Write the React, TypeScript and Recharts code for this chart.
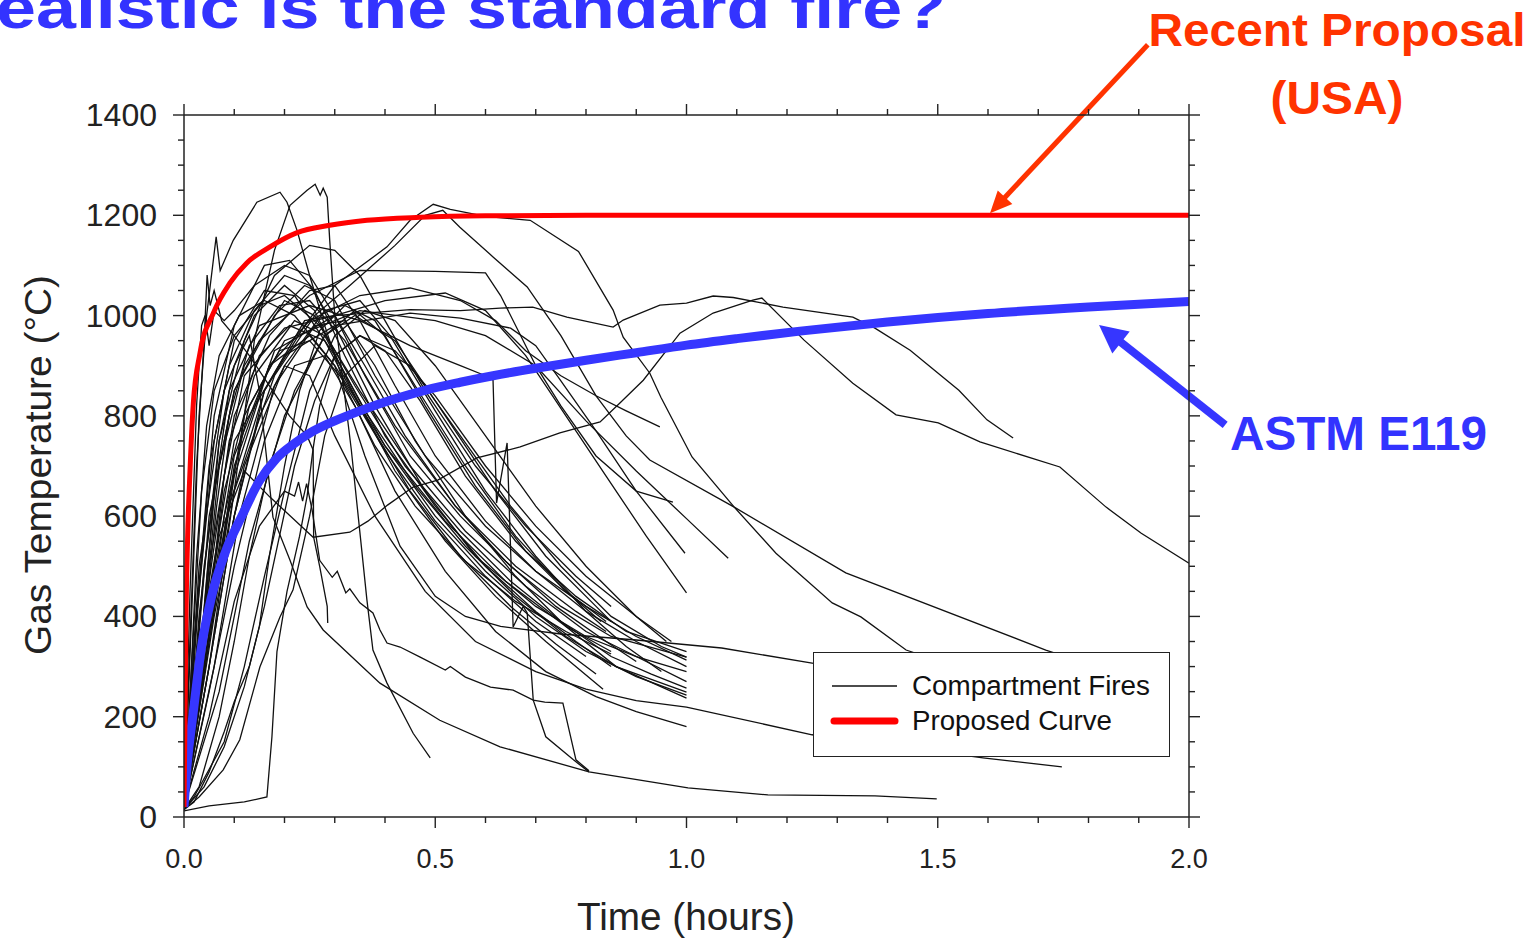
import React from "react";
import {
  LineChart,
  Line,
  XAxis,
  YAxis,
  Legend,
  ReferenceLine,
} from "recharts";

type Pt = [number, number];

// axis ticks
const xTicks = [0, 0.1, 0.2, 0.3, 0.4, 0.5, 0.6, 0.7, 0.8, 0.9, 1.0, 1.1, 1.2, 1.3, 1.4, 1.5, 1.6, 1.7, 1.8, 1.9, 2.0];
const yTicks = [0, 50, 100, 150, 200, 250, 300, 350, 400, 450, 500, 550, 600, 650, 700, 750, 800, 850, 900, 950, 1000, 1050, 1100, 1150, 1200, 1250, 1300, 1350, 1400];

// ASTM E119 standard fire (hours, degC)
const astmE119: Pt[] = [[0, 20], [0.005, 90], [0.0186, 210], [0.035, 340], [0.055, 440], [0.083, 530], [0.115, 600], [0.15, 670], [0.184, 715], [0.22, 745], [0.251, 766], [0.3, 790], [0.35, 810], [0.42, 834], [0.483, 852], [0.55, 867], [0.615, 880], [0.7, 895], [0.8, 911], [0.9, 926], [1.0, 941], [1.1, 954], [1.226, 969], [1.4, 987], [1.6, 1004], [1.8, 1017], [2.0, 1028]];

// proposed curve
const proposedCurve: Pt[] = [[0, 20], [0.002, 200], [0.004, 400], [0.007, 550], [0.012, 692], [0.0186, 826], [0.0318, 925], [0.0584, 1005], [0.0915, 1065], [0.125, 1105], [0.171, 1137], [0.224, 1165], [0.29, 1180], [0.364, 1190], [0.47, 1196], [0.6, 1199], [0.8, 1200], [2.0, 1200]];

// compartment fires
const fireA: Pt[] = [[0, 20], [0.03, 300], [0.07, 560], [0.12, 690], [0.171, 638], [0.257, 558], [0.33, 568], [0.366, 590], [0.405, 622], [0.456, 658], [0.505, 672], [0.583, 716], [0.669, 738], [0.748, 766], [0.828, 788], [0.868, 826], [0.914, 871], [0.987, 965], [1.053, 1005], [1.132, 1031], [1.15, 1035], [1.234, 951], [1.331, 865], [1.417, 802], [1.501, 786], [1.584, 748], [1.743, 698], [1.835, 618], [1.905, 566], [2.0, 506]];
const fireB: Pt[] = [[0, 20], [0.04, 320], [0.08, 680], [0.12, 880], [0.2, 975], [0.3, 1000], [0.45, 1012], [0.55, 1010], [0.629, 1015], [0.694, 1017], [0.762, 997], [0.854, 977], [0.874, 991], [0.947, 1021], [1.0, 1025], [1.053, 1039], [1.093, 1036], [1.192, 1017], [1.331, 997], [1.375, 975], [1.445, 931], [1.542, 851], [1.598, 792], [1.65, 756]];
const fireC: Pt[] = [[0, 20], [0.04, 300], [0.09, 620], [0.16, 850], [0.24, 980], [0.3, 1060], [0.404, 1137], [0.45, 1190], [0.496, 1222], [0.53, 1212], [0.6, 1198], [0.689, 1190], [0.785, 1128], [0.854, 1011], [0.874, 957], [0.927, 885], [0.949, 837], [1.011, 718], [1.095, 618], [1.178, 526], [1.29, 427], [1.347, 399], [1.437, 333], [1.5, 312]];
const fireD: Pt[] = [[0, 20], [0.05, 350], [0.1, 650], [0.18, 880], [0.26, 1000], [0.33, 1060], [0.42, 1140], [0.48, 1200], [0.515, 1210], [0.549, 1176], [0.615, 1117], [0.683, 1057], [0.75, 960], [0.82, 840], [0.88, 760], [0.927, 712], [1.095, 618], [1.317, 487], [1.715, 333], [1.8, 305]];
const fireE: Pt[] = [[0, 20], [0.05, 420], [0.1, 720], [0.17, 900], [0.25, 990], [0.35, 1040], [0.45, 1055], [0.55, 1030], [0.62, 990], [0.68, 930], [0.75, 880], [0.82, 840], [0.88, 810], [0.947, 778]];
const fireF: Pt[] = [[0, 20], [0.03, 300], [0.06, 650], [0.1, 850], [0.15, 950], [0.25, 1040], [0.35, 1090], [0.5, 1088], [0.6, 1085], [0.63, 1040], [0.7, 900], [0.75, 820], [0.82, 720], [0.9, 650], [0.973, 628]];
const fireG: Pt[] = [[0, 20], [0.05, 450], [0.1, 750], [0.2, 920], [0.3, 980], [0.45, 1005], [0.55, 995], [0.65, 975], [0.7, 940], [0.75, 870], [0.82, 770], [0.9, 650], [0.997, 526]];
const fireH: Pt[] = [[0, 20], [0.04, 300], [0.1, 700], [0.18, 930], [0.3, 1000], [0.4, 1030], [0.52, 1045], [0.6, 1010], [0.68, 920], [0.76, 800], [0.84, 680], [0.92, 560], [1.0, 447]];
const fireI: Pt[] = [[0, 20], [0.05, 400], [0.12, 800], [0.2, 950], [0.35, 1010], [0.5, 990], [0.6, 960], [0.7, 900], [0.8, 790], [0.9, 690], [1.0, 595], [1.083, 516]];
const fireJ: Pt[] = [[0, 20], [0.05, 350], [0.1, 680], [0.17, 900], [0.25, 960], [0.3, 900], [0.36, 720], [0.43, 540], [0.5, 440], [0.56, 400], [0.63, 380], [0.75, 365], [0.9, 353], [1.07, 337], [1.25, 307], [1.4, 285]];
const fireK: Pt[] = [[0, 20], [0.03, 300], [0.07, 750], [0.1, 900], [0.13, 960], [0.15, 850], [0.177, 598], [0.211, 512], [0.245, 419], [0.277, 373], [0.39, 267], [0.509, 193], [0.629, 140], [0.806, 90], [1.003, 58], [1.162, 44], [1.375, 42], [1.498, 36]];
const fireL: Pt[] = [[0, 20], [0.05, 300], [0.1, 650], [0.14, 950], [0.18, 1130], [0.211, 1220], [0.245, 1250], [0.261, 1262], [0.271, 1240], [0.277, 1254], [0.285, 1236], [0.29, 1150], [0.3, 1000], [0.315, 880], [0.333, 732], [0.364, 433], [0.376, 333], [0.404, 267], [0.456, 167], [0.49, 118]];
const fireM: Pt[] = [[0, 20], [0.05, 200], [0.1, 430], [0.15, 580], [0.2, 650], [0.22, 640], [0.228, 668], [0.236, 630], [0.244, 665], [0.255, 612], [0.27, 512], [0.295, 478], [0.305, 490], [0.322, 447], [0.33, 455], [0.35, 427], [0.376, 407], [0.39, 373], [0.404, 347], [0.43, 339], [0.47, 319], [0.52, 293], [0.53, 300], [0.56, 279], [0.61, 259], [0.655, 253], [0.695, 233], [0.718, 229], [0.754, 227], [0.78, 114], [0.806, 92]];
const fireN: Pt[] = [[0, 12], [0.05, 22], [0.12, 30], [0.165, 40], [0.175, 160], [0.185, 330], [0.205, 450], [0.23, 560], [0.245, 640], [0.257, 735], [0.27, 820], [0.3, 920], [0.35, 960], [0.4, 930], [0.47, 830], [0.56, 680], [0.66, 550], [0.76, 450], [0.84, 390]];
const fireO: Pt[] = [[0, 20], [0.015, 400], [0.03, 800], [0.045, 1000], [0.064, 1157], [0.072, 1090], [0.098, 1150], [0.145, 1226], [0.191, 1246], [0.205, 1226], [0.225, 1170], [0.25, 1080], [0.28, 980], [0.32, 860], [0.38, 740], [0.46, 620], [0.56, 510], [0.66, 430], [0.76, 370], [0.85, 325]];
const fireP: Pt[] = [[0, 20], [0.01, 300], [0.025, 700], [0.04, 950], [0.046, 1081], [0.052, 1020], [0.06, 1050], [0.075, 990], [0.1, 960], [0.13, 920], [0.17, 860], [0.21, 800], [0.245, 760], [0.257, 732], [0.258, 558], [0.27, 500], [0.285, 420], [0.286, 387]];
const fireQ: Pt[] = [[0, 20], [0.012, 450], [0.025, 820], [0.035, 980], [0.042, 1000], [0.05, 940], [0.06, 1010], [0.08, 990], [0.1, 1010], [0.14, 1060], [0.2, 1100], [0.25, 1080], [0.3, 1000], [0.36, 880], [0.45, 720], [0.55, 600], [0.65, 500], [0.75, 420], [0.85, 360], [1.0, 319]];
const fireR: Pt[] = [[0, 20], [0.04, 500], [0.09, 850], [0.15, 980], [0.25, 1020], [0.35, 990], [0.45, 940], [0.55, 900], [0.6, 880], [0.615, 871], [0.622, 626], [0.643, 746], [0.655, 379], [0.675, 420], [0.683, 407], [0.695, 233], [0.72, 160], [0.775, 114], [0.806, 90]];
const fireT: Pt[] = [[0, 20], [0.05, 300], [0.1, 600], [0.15, 800], [0.2, 900], [0.25, 880], [0.3, 760], [0.38, 600], [0.48, 450], [0.58, 350], [0.7, 290], [0.8, 255], [0.9, 232], [1.0, 219], [1.25, 164], [1.59, 118], [1.747, 100]];
const fireU: Pt[] = [[0, 20], [0.03, 400], [0.07, 750], [0.12, 950], [0.18, 1080], [0.25, 1140], [0.3, 1130], [0.35, 1080], [0.4, 990], [0.48, 850], [0.58, 700], [0.68, 580], [0.78, 480], [0.85, 420]];
const fireB1: Pt[] = [[0, 20], [0.02, 250], [0.05, 600], [0.1, 850], [0.18, 1000], [0.24, 1060], [0.3, 1030], [0.38, 880], [0.48, 720], [0.6, 580], [0.7, 490], [0.8, 420], [0.9, 360], [1.0, 313]];
const fireB2: Pt[] = [[0, 20], [0.03, 300], [0.07, 700], [0.12, 900], [0.2, 1030], [0.26, 1000], [0.34, 860], [0.44, 700], [0.55, 570], [0.65, 470], [0.75, 390], [0.85, 320], [0.93, 285], [1.0, 257]];
const fireB3: Pt[] = [[0, 20], [0.04, 350], [0.08, 650], [0.14, 880], [0.22, 990], [0.28, 960], [0.36, 810], [0.46, 660], [0.56, 540], [0.66, 440], [0.76, 360], [0.86, 300], [1.0, 249]];
const fireB4: Pt[] = [[0, 20], [0.025, 400], [0.06, 750], [0.1, 950], [0.16, 1050], [0.22, 1040], [0.3, 920], [0.4, 740], [0.5, 600], [0.6, 490], [0.7, 400], [0.8, 330], [0.9, 280], [1.0, 243]];
const fireB5: Pt[] = [[0, 20], [0.05, 300], [0.1, 600], [0.16, 850], [0.24, 990], [0.3, 1000], [0.36, 900], [0.44, 760], [0.54, 620], [0.64, 510], [0.74, 420], [0.84, 350], [0.9, 310]];
const fireB6: Pt[] = [[0, 20], [0.03, 500], [0.08, 850], [0.14, 1000], [0.2, 1060], [0.26, 1010], [0.33, 860], [0.42, 690], [0.52, 550], [0.62, 440], [0.72, 350], [0.834, 255]];
const fireB7: Pt[] = [[0, 20], [0.04, 400], [0.09, 750], [0.15, 920], [0.21, 980], [0.28, 950], [0.36, 800], [0.45, 650], [0.55, 520], [0.65, 420], [0.74, 345], [0.82, 285]];
const fireB8: Pt[] = [[0, 20], [0.06, 300], [0.11, 600], [0.18, 860], [0.26, 980], [0.32, 990], [0.38, 900], [0.46, 750], [0.56, 600], [0.66, 480], [0.76, 380], [0.86, 300], [1.0, 237]];
const fireB9: Pt[] = [[0, 20], [0.02, 350], [0.05, 700], [0.09, 900], [0.14, 1010], [0.2, 1080], [0.25, 1060], [0.3, 980], [0.38, 820], [0.48, 650], [0.58, 520], [0.7, 420], [0.8, 360], [0.9, 320], [1.0, 290]];
const fireB10: Pt[] = [[0, 20], [0.07, 250], [0.13, 550], [0.2, 800], [0.28, 960], [0.34, 1010], [0.4, 960], [0.48, 820], [0.58, 660], [0.68, 530], [0.78, 440], [0.88, 370], [1.0, 330]];
const fireB11: Pt[] = [[0, 20], [0.03, 450], [0.06, 800], [0.1, 980], [0.16, 1100], [0.21, 1110], [0.26, 1050], [0.32, 920], [0.4, 760], [0.5, 620], [0.6, 500], [0.7, 410], [0.78, 350], [0.85, 300]];
const fireB12: Pt[] = [[0, 20], [0.05, 500], [0.1, 800], [0.17, 960], [0.25, 1050], [0.3, 1060], [0.35, 990], [0.42, 860], [0.5, 720], [0.6, 590], [0.7, 490], [0.8, 410], [0.9, 350], [1.0, 300]];
const fireB13: Pt[] = [[0, 20], [0.04, 300], [0.08, 600], [0.13, 820], [0.19, 930], [0.25, 950], [0.31, 880], [0.4, 730], [0.5, 590], [0.6, 480], [0.7, 390], [0.8, 320]];
const fireB14: Pt[] = [[0, 20], [0.06, 400], [0.12, 700], [0.2, 900], [0.28, 1010], [0.35, 1030], [0.41, 960], [0.5, 810], [0.6, 650], [0.7, 520], [0.8, 410], [0.88, 340], [0.95, 290]];
const fireB15: Pt[] = [[0, 20], [0.05, 250], [0.1, 500], [0.16, 750], [0.22, 900], [0.28, 920], [0.34, 820], [0.42, 650], [0.52, 490], [0.62, 370], [0.72, 290], [0.82, 240], [0.9, 210], [1.0, 180]];
const fireB16: Pt[] = [[0, 20], [0.01, 200], [0.025, 520], [0.045, 780], [0.07, 920], [0.11, 1000], [0.16, 1030], [0.22, 1000], [0.3, 900], [0.4, 740], [0.52, 590], [0.64, 470], [0.76, 380], [0.85, 330]];
const fireB17: Pt[] = [[0, 20], [0.015, 300], [0.035, 650], [0.06, 850], [0.1, 960], [0.15, 1020], [0.2, 1040], [0.27, 980], [0.35, 850], [0.45, 700], [0.56, 570], [0.68, 460], [0.8, 370], [0.9, 320], [1.0, 270]];
const fireB18: Pt[] = [[0, 20], [0.02, 150], [0.04, 380], [0.065, 620], [0.09, 800], [0.13, 940], [0.19, 1020], [0.25, 1030], [0.32, 950], [0.42, 780], [0.54, 620], [0.66, 500], [0.78, 410], [0.84, 370]];
const fireS1: Pt[] = [[0, 15], [0.02, 40], [0.08, 150], [0.12, 300], [0.16, 480], [0.2, 650], [0.25, 850], [0.3, 960], [0.36, 1010], [0.42, 990], [0.5, 900], [0.6, 760], [0.7, 620], [0.8, 500], [0.9, 400], [0.96, 350]];
const fireS2: Pt[] = [[0, 15], [0.03, 60], [0.07, 200], [0.1, 350], [0.13, 520], [0.17, 700], [0.22, 850], [0.28, 960], [0.34, 1000], [0.42, 950], [0.52, 800], [0.62, 650], [0.72, 520], [0.82, 420], [0.85, 390]];
const fireS3: Pt[] = [[0, 15], [0.03, 40], [0.078, 94], [0.111, 154], [0.151, 299], [0.191, 399], [0.217, 453], [0.25, 600], [0.28, 760], [0.32, 880], [0.38, 940], [0.45, 900], [0.55, 760], [0.65, 620], [0.75, 500], [0.85, 400], [0.95, 340], [1.0, 319]];
const fireS4: Pt[] = [[0, 15], [0.02, 30], [0.05, 90], [0.08, 170], [0.1, 230], [0.13, 300], [0.16, 420], [0.19, 560], [0.22, 700], [0.26, 830], [0.3, 920], [0.35, 960], [0.42, 930], [0.5, 840], [0.6, 700], [0.7, 580], [0.8, 480], [0.9, 400], [0.97, 350]];
const fireS5: Pt[] = [[0, 15], [0.04, 60], [0.08, 140], [0.12, 260], [0.15, 380], [0.17, 520], [0.2, 700], [0.23, 850], [0.27, 970], [0.32, 1020], [0.38, 990], [0.46, 860], [0.56, 700], [0.66, 560], [0.76, 450], [0.83, 390]];

const compartmentFires: Pt[][] = [
  fireA, fireB, fireC, fireD, fireE, fireF, fireG, fireH, fireI, fireJ, fireK, fireL, fireM,
  fireN, fireO, fireP, fireQ, fireR, fireT, fireU,
  fireB1, fireB2, fireB3, fireB4, fireB5, fireB6, fireB7, fireB8, fireB9, fireB10, fireB11,
  fireB12, fireB13, fireB14, fireB15, fireB16, fireB17, fireB18,
  fireS1, fireS2, fireS3, fireS4, fireS5,
];

// annotation arrows (tail -> tip, in hours / degC)
const redArrow = [{ x: 1.918, y: 1540 }, { x: 1.604, y: 1204 }];
const blueArrow = [{ x: 2.072, y: 782 }, { x: 1.821, y: 981 }];

const toRows = (pts: Pt[]) => pts.map(([t, temp]) => ({ t, temp }));

const FONT = "'Liberation Sans', Arial, Helvetica, sans-serif";
const AXIS = "#222";
const RED = "#ff0000";
const BLUE = "#3636ff";

const isMajorX = (v: number) => Math.round(v * 10) % 5 === 0;

const BottomTick = (props: any) => {
  const { x, y, payload } = props;
  const major = isMajorX(payload.value);
  return (
    <g>
      <line x1={x} x2={x} y1={y} y2={y + (major ? 11 : 6)} stroke={AXIS} strokeWidth={1.4} />
      {major && (
        <text x={x} y={y + 42} textAnchor="middle" dominantBaseline="central" fontSize={27} fill={AXIS} fontFamily={FONT}>
          {payload.value.toFixed(1)}
        </text>
      )}
    </g>
  );
};

const TopTick = (props: any) => {
  const { x, y, payload } = props;
  const major = isMajorX(payload.value);
  return <line x1={x} x2={x} y1={y} y2={y - (major ? 11 : 6)} stroke={AXIS} strokeWidth={1.4} />;
};

const LeftTick = (props: any) => {
  const { x, y, payload } = props;
  const major = payload.value % 200 === 0;
  return (
    <g>
      <line x1={x - (major ? 11 : 6)} x2={x} y1={y} y2={y} stroke={AXIS} strokeWidth={1.4} />
      {major && (
        <text x={x - 27} y={y} textAnchor="end" dominantBaseline="central" fontSize={32} fill={AXIS} fontFamily={FONT}>
          {payload.value}
        </text>
      )}
    </g>
  );
};

const RightTick = (props: any) => {
  const { x, y, payload } = props;
  const major = payload.value % 200 === 0;
  return <line x1={x} x2={x + (major ? 11 : 6)} y1={y} y2={y} stroke={AXIS} strokeWidth={1.4} />;
};

const arrowShape = (color: string, width: number, headLen: number, headHalf: number) => (props: any) => {
  const { x1, y1, x2, y2 } = props;
  const dx = x2 - x1;
  const dy = y2 - y1;
  const len = Math.sqrt(dx * dx + dy * dy);
  const ux = dx / len;
  const uy = dy / len;
  const bx = x2 - ux * headLen;
  const by = y2 - uy * headLen;
  const pts = `${x2},${y2} ${bx - uy * headHalf},${by + ux * headHalf} ${bx + uy * headHalf},${by - ux * headHalf}`;
  return (
    <g>
      <line x1={x1} y1={y1} x2={bx + ux * 2} y2={by + uy * 2} stroke={color} strokeWidth={width} />
      <polygon points={pts} fill={color} />
    </g>
  );
};

const LegendBox = () => (
  <div style={{ width: 357, height: 105, border: `1.5px solid ${AXIS}`, background: "#fff", boxSizing: "border-box" }}>
    <svg width={354} height={102}>
      <line x1={18} x2={83} y1={33} y2={33} stroke="#111" strokeWidth={1.3} />
      <line x1={20} x2={81} y1={68} y2={68} stroke={RED} strokeWidth={7} strokeLinecap="round" />
      <text x={98} y={33} dominantBaseline="central" fontSize={27} fill="#111" fontFamily={FONT} textLength={238} lengthAdjust="spacingAndGlyphs">
        Compartment Fires
      </text>
      <text x={98} y={68} dominantBaseline="central" fontSize={27} fill="#111" fontFamily={FONT} textLength={200} lengthAdjust="spacingAndGlyphs">
        Proposed Curve
      </text>
    </svg>
  </div>
);

export default function App() {
  return (
    <div style={{ position: "absolute", left: 0, top: 0, width: 1537, height: 938, background: "#fff", overflow: "hidden", fontFamily: FONT }}>
      <LineChart width={1537} height={938} margin={{ top: 114, right: 347, bottom: 61, left: 84 }}>
        <XAxis
          dataKey="t"
          type="number"
          domain={[0, 2]}
          ticks={xTicks}
          interval={0}
          tickSize={0}
          tickMargin={0}
          tickLine={false}
          tick={<BottomTick />}
          axisLine={{ stroke: AXIS, strokeWidth: 1.5 }}
          height={60}
          allowDataOverflow
        />
        <XAxis
          xAxisId="top"
          orientation="top"
          dataKey="t"
          type="number"
          domain={[0, 2]}
          ticks={xTicks}
          interval={0}
          tickSize={0}
          tickMargin={0}
          tickLine={false}
          tick={<TopTick />}
          axisLine={{ stroke: AXIS, strokeWidth: 1.5 }}
          height={1}
          allowDataOverflow
        />
        <YAxis
          type="number"
          domain={[0, 1400]}
          ticks={yTicks}
          interval={0}
          tickSize={0}
          tickMargin={0}
          tickLine={false}
          tick={<LeftTick />}
          axisLine={{ stroke: AXIS, strokeWidth: 1.5 }}
          width={100}
          allowDataOverflow
        />
        <YAxis
          yAxisId="right"
          orientation="right"
          type="number"
          domain={[0, 1400]}
          ticks={yTicks}
          interval={0}
          tickSize={0}
          tickMargin={0}
          tickLine={false}
          tick={<RightTick />}
          axisLine={{ stroke: AXIS, strokeWidth: 1.5 }}
          width={1}
          allowDataOverflow
        />

        {/* compartment fires */}
        {compartmentFires.map((pts, i) => (
          <Line
            key={i}
            data={toRows(pts)}
            dataKey="temp"
            type="linear"
            stroke="#111"
            strokeWidth={1.3}
            dot={false}
            activeDot={false}
            legendType="none"
            isAnimationActive={false}
          />
        ))}

        {/* ASTM E119 */}
        <Line
          data={toRows(astmE119)}
          dataKey="temp"
          type="monotone"
          stroke={BLUE}
          strokeWidth={9}
          dot={false}
          activeDot={false}
          legendType="none"
          isAnimationActive={false}
        />

        {/* proposed curve */}
        <Line
          data={toRows(proposedCurve)}
          dataKey="temp"
          type="monotone"
          stroke={RED}
          strokeWidth={5}
          dot={false}
          activeDot={false}
          legendType="none"
          isAnimationActive={false}
        />

        <ReferenceLine segment={redArrow} ifOverflow="visible" shape={arrowShape("#ff3300", 5, 22, 10)} />
        <ReferenceLine segment={blueArrow} ifOverflow="visible" shape={arrowShape(BLUE, 8, 28, 14)} />

        <Legend
          layout="horizontal"
          verticalAlign="middle"
          align="center"
          content={<LegendBox />}
          wrapperStyle={{ left: 813, top: 652, width: 357, height: 105 }}
        />
      </LineChart>

      <svg width={1537} height={938} style={{ position: "absolute", left: 0, top: 0, pointerEvents: "none" }}>
        <text x={-4} y={28} fontSize={60} fontWeight="bold" fill="#3333ff" fontFamily={FONT} textLength={950} lengthAdjust="spacingAndGlyphs">
          ealistic is the standard fire?
        </text>
        <text x={1337} y={46} textAnchor="middle" fontSize={47} fontWeight="bold" fill="#ff3300" fontFamily={FONT} textLength={377} lengthAdjust="spacingAndGlyphs">
          Recent Proposal
        </text>
        <text x={1337} y={114} textAnchor="middle" fontSize={47} fontWeight="bold" fill="#ff3300" fontFamily={FONT} textLength={133} lengthAdjust="spacingAndGlyphs">
          (USA)
        </text>
        <text x={1230} y={450} fontSize={48} fontWeight="bold" fill="#3333ff" fontFamily={FONT} textLength={257} lengthAdjust="spacingAndGlyphs">
          ASTM E119
        </text>
        <text
          x={38}
          y={465}
          transform="rotate(-90, 38, 465)"
          textAnchor="middle"
          dominantBaseline="central"
          fontSize={36}
          fill={AXIS}
          fontFamily={FONT}
          textLength={380}
          lengthAdjust="spacingAndGlyphs"
        >
          Gas Temperature (°C)
        </text>
        <text x={686} y={930} textAnchor="middle" fontSize={38} fill={AXIS} fontFamily={FONT} textLength={218} lengthAdjust="spacingAndGlyphs">
          Time (hours)
        </text>
      </svg>
    </div>
  );
}
